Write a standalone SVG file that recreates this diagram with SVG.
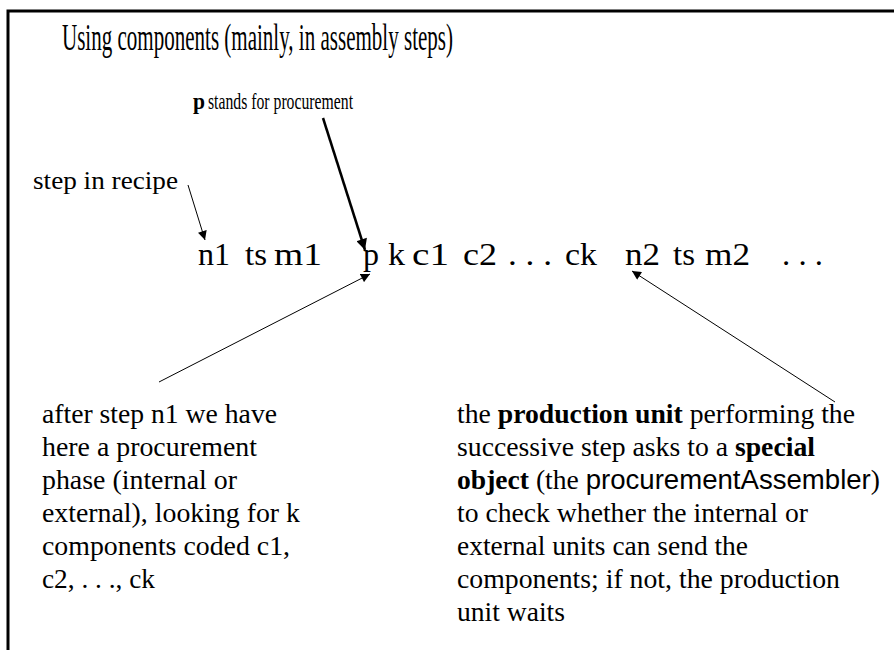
<svg xmlns="http://www.w3.org/2000/svg" width="894" height="650" viewBox="0 0 894 650">
<defs>
<style>
.t{font-family:"Liberation Serif","Times New Roman",serif;fill:#000}
.b{font-weight:bold}
.s{font-family:"Liberation Sans",Arial,sans-serif}
.ln{stroke:#000;fill:none}
.body{font-size:27.5px}
.seq{font-size:31px}
</style>
<marker id="ah" viewBox="0 0 10 10" refX="10" refY="5" markerWidth="10" markerHeight="9" markerUnits="userSpaceOnUse" orient="auto">
<path d="M0,0 L10,5 L0,10 Z" fill="#000"/>
</marker>
<marker id="ahb" viewBox="0 0 10 10" refX="10" refY="5" markerWidth="13" markerHeight="11" markerUnits="userSpaceOnUse" orient="auto">
<path d="M0,0 L10,5 L0,10 Z" fill="#000"/>
</marker>
</defs>
<rect width="894" height="650" fill="#fff"/>
<path d="M8,650 V11 H894" stroke="#000" stroke-width="3" fill="none"/>

<g id="title">
<text class="t" x="62" y="50" font-size="37" textLength="391" lengthAdjust="spacingAndGlyphs">Using components (mainly, in assembly steps)</text>
</g>

<g id="label-p">
<text class="t b" x="193" y="109" font-size="24" textLength="12" lengthAdjust="spacingAndGlyphs">p</text>
<text class="t" x="208" y="109" font-size="24" textLength="145" lengthAdjust="spacingAndGlyphs">stands for procurement</text>
</g>

<g id="label-step">
<text class="t" x="33" y="189" font-size="26" textLength="145" lengthAdjust="spacingAndGlyphs">step in recipe</text>
</g>

<g id="sequence">
<text class="t seq" x="198" y="265" textLength="32" lengthAdjust="spacingAndGlyphs">n1</text>
<text class="t seq" x="245" y="265" textLength="22" lengthAdjust="spacingAndGlyphs">ts</text>
<text class="t seq" x="274" y="265" textLength="48" lengthAdjust="spacingAndGlyphs">m1</text>
<text class="t seq" x="363" y="265" textLength="16" lengthAdjust="spacingAndGlyphs">p</text>
<text class="t seq" x="388" y="265" textLength="17" lengthAdjust="spacingAndGlyphs">k</text>
<text class="t seq" x="412" y="265" textLength="37" lengthAdjust="spacingAndGlyphs">c1</text>
<text class="t seq" x="463" y="265" textLength="34" lengthAdjust="spacingAndGlyphs">c2</text>
<text class="t seq" x="508" y="265" textLength="44" lengthAdjust="spacingAndGlyphs">. . .</text>
<text class="t seq" x="565" y="265" textLength="32" lengthAdjust="spacingAndGlyphs">ck</text>
<text class="t seq" x="625" y="265" textLength="35" lengthAdjust="spacingAndGlyphs">n2</text>
<text class="t seq" x="673" y="265" textLength="22" lengthAdjust="spacingAndGlyphs">ts</text>
<text class="t seq" x="705" y="265" textLength="45" lengthAdjust="spacingAndGlyphs">m2</text>
<text class="t seq" x="782" y="265" textLength="41" lengthAdjust="spacingAndGlyphs">. . .</text>
</g>

<g id="note-left">
<text class="t body" x="42" y="423" textLength="235" lengthAdjust="spacingAndGlyphs">after step n1 we have</text>
<text class="t body" x="42" y="456" textLength="215" lengthAdjust="spacingAndGlyphs">here a procurement</text>
<text class="t body" x="42" y="489" textLength="195" lengthAdjust="spacingAndGlyphs">phase (internal or</text>
<text class="t body" x="42" y="522" textLength="258" lengthAdjust="spacingAndGlyphs">external), looking for k</text>
<text class="t body" x="42" y="555" textLength="248" lengthAdjust="spacingAndGlyphs">components coded c1,</text>
<text class="t body" x="42" y="588" textLength="113" lengthAdjust="spacingAndGlyphs">c2, . . ., ck</text>
</g>

<g id="note-right">
<text class="t body" x="457" y="423" textLength="398" lengthAdjust="spacingAndGlyphs">the <tspan class="b">production unit</tspan> performing the</text>
<text class="t body" x="457" y="456" textLength="358" lengthAdjust="spacingAndGlyphs">successive step asks to a <tspan class="b">special</tspan></text>
<text class="t body" x="457" y="489" textLength="423" lengthAdjust="spacingAndGlyphs"><tspan class="b">object</tspan> (the <tspan class="s">procurementAssembler</tspan>)</text>
<text class="t body" x="457" y="522" textLength="351" lengthAdjust="spacingAndGlyphs">to check whether the internal or</text>
<text class="t body" x="457" y="555" textLength="291" lengthAdjust="spacingAndGlyphs">external units can send the</text>
<text class="t body" x="457" y="588" textLength="383" lengthAdjust="spacingAndGlyphs">components; if not, the production</text>
<text class="t body" x="457" y="621" textLength="108" lengthAdjust="spacingAndGlyphs">unit waits</text>
</g>

<g id="connectors">
<line class="ln" x1="188" y1="185" x2="205" y2="240" stroke-width="1" marker-end="url(#ah)"/>
<line class="ln" x1="323" y1="118" x2="365" y2="250" stroke-width="2.5" marker-end="url(#ahb)"/>
<line class="ln" x1="159" y1="382" x2="370" y2="274" stroke-width="1" marker-end="url(#ah)"/>
<line class="ln" x1="835" y1="402" x2="632" y2="271" stroke-width="1" marker-end="url(#ah)"/>
</g>
</svg>
